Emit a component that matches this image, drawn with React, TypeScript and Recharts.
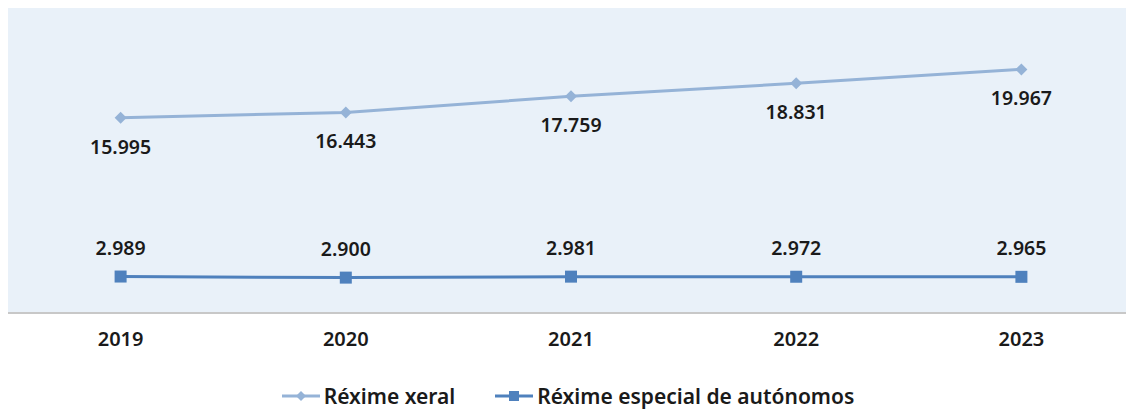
import {
  LineChart,
  Line,
  XAxis,
  YAxis,
  CartesianGrid,
  Legend,
} from "recharts";

const years = ["2019", "2020", "2021", "2022", "2023"];
const xeral = [15995, 16443, 17759, 18831, 19967];
const autonomos = [2989, 2900, 2981, 2972, 2965];

const XERAL = "#95b3d7";
const AUTO = "#4f81bd";
const FONT = "'Noto Sans', sans-serif";

const data = years.map((y, i) => ({ year: y, xeral: xeral[i], autonomos: autonomos[i] }));

const fmt = (v: number) => v.toLocaleString("de-DE");

const Diamond = (props: any) => {
  const { cx, cy } = props;
  if (cx == null || cy == null) return null;
  return <path d={`M${cx},${cy - 6}L${cx + 6},${cy}L${cx},${cy + 6}L${cx - 6},${cy}Z`} fill={XERAL} />;
};

const Square = (props: any) => {
  const { cx, cy } = props;
  if (cx == null || cy == null) return null;
  return <rect x={cx - 6} y={cy - 6} width={12} height={12} fill={AUTO} />;
};

const makeLabel = (dy: number) => (props: any) => {
  const { x, y, value } = props;
  return (
    <text x={x} y={y + dy} textAnchor="middle" fontFamily={FONT} fontSize={19.5} fontWeight={600} fill="#1a1a1a">
      {fmt(value)}
    </text>
  );
};

const LegendContent = () => (
  <div style={{ display: "flex", justifyContent: "center", gap: 40, fontFamily: FONT, fontSize: 21, fontWeight: 600, color: "#1a1a1a", paddingLeft: 10 }}>
    <span style={{ display: "flex", alignItems: "center" }}>
      <svg width={38} height={14} style={{ marginRight: 4 }}>
        <line x1={0} y1={7} x2={38} y2={7} stroke={XERAL} strokeWidth={3} />
        <path d="M19,2L24,7L19,12L14,7Z" fill={XERAL} />
      </svg>
      Réxime xeral
    </span>
    <span style={{ display: "flex", alignItems: "center" }}>
      <svg width={38} height={14} style={{ marginRight: 4 }}>
        <line x1={0} y1={7} x2={38} y2={7} stroke={AUTO} strokeWidth={3} />
        <rect x={14} y={2} width={10} height={10} fill={AUTO} />
      </svg>
      Réxime especial de autónomos
    </span>
  </div>
);

export default function App() {
  return (
    <div style={{ position: "absolute", left: 0, top: 0, width: 1126, height: 410, overflow: "hidden", background: "#fff" }}>
      <LineChart
        width={1140}
        height={410}
        data={data}
        margin={{ top: 8, right: 6, bottom: 19, left: 8 }}
      >
        <CartesianGrid
          horizontal={false}
          vertical={false}
          fill="#e9f1f9"
          stroke="#d0d7de"
        />
        <XAxis
          dataKey="year"
          scale="band"
          axisLine={{ stroke: "#c8c8c8", strokeWidth: 2 }}
          tickLine={false}
          tick={{ fontFamily: FONT, fontSize: 20, fontWeight: 600, fill: "#1a1a1a" }}
          tickMargin={13}
          height={50}
        />
        <YAxis hide domain={[0, 25000]} />
        <Legend verticalAlign="bottom" content={<LegendContent />} wrapperStyle={{ bottom: 0, left: 0, width: 1126 }} />
        <Line
          dataKey="xeral"
          stroke={XERAL}
          strokeWidth={3}
          dot={<Diamond />}
          activeDot={false}
          label={makeLabel(36)}
          isAnimationActive={false}
        />
        <Line
          dataKey="autonomos"
          stroke={AUTO}
          strokeWidth={3}
          dot={<Square />}
          activeDot={false}
          label={makeLabel(-22)}
          isAnimationActive={false}
        />
      </LineChart>
    </div>
  );
}
